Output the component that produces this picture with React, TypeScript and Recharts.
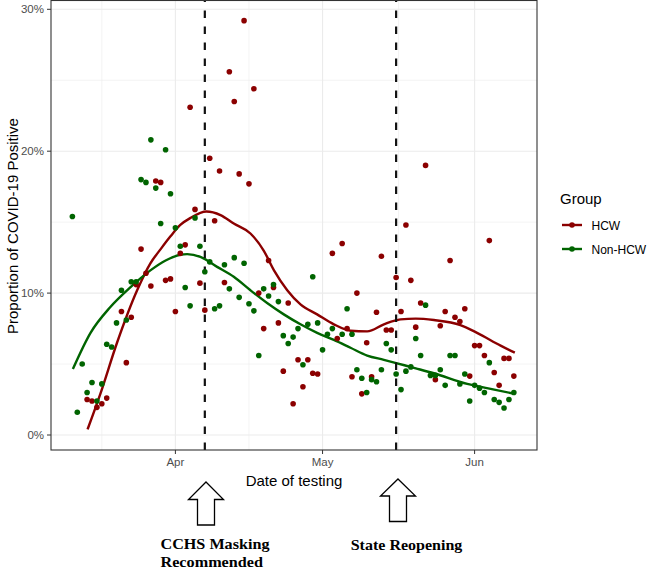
import {
  ComposedChart,
  Scatter,
  Line,
  XAxis,
  YAxis,
  CartesianGrid,
  ReferenceLine,
} from "recharts";

// days counted from Mar 1 (Apr 1 = 31, May 1 = 61, Jun 1 = 92)
const monthTicks = [31, 61, 92];
const monthLabels = ["Apr", "May", "Jun"];
const minorDays = [16, 46, 76.5];
const percentTicks = [0, 10, 20, 30];
const minorPercent = [5, 15, 25];
const eventDays = [37, 76]; // masking recommended, state reopening

const hcwDays = [
  13, 14, 15, 16, 17, 20, 21, 22, 23, 24, 25, 26, 27, 28, 29, 30, 31, 32, 33, 34,
  35, 36, 37, 38, 39, 40, 41, 42, 43, 44, 45, 46, 47, 48, 49, 50, 51, 52, 53, 54,
  55, 56, 57, 58, 59, 60, 63, 64, 65, 66, 67, 68, 69, 70, 71, 72, 73, 74, 75, 76,
  77, 78, 79, 80, 81, 82, 84, 85, 86, 87, 88, 89, 90, 91, 92, 93, 94, 95, 96, 97,
  98, 99, 100,
];
const hcwRates = [
  2.5, 2.4, 1.95, 2.2, 2.6, 8.7, 5.1, 8.3, 10.6, 13.1, 11.4, 10.5, 17.9, 17.8, 10.9, 11.0, 8.7, 12.8, 13.4, 23.1,
  15.9, 10.7, 8.8, 19.5, 15.1, 18.6, 10.75, 25.6, 23.5, 18.4, 29.2, 17.7, 24.4, 10.0, 7.5, 12.3, 10.4, 7.9, 4.5, 9.3,
  2.2, 5.3, 3.4, 5.3, 4.35, 4.3, 12.8, 6.8, 13.5, 7.5, 4.1, 10.0, 2.9, 6.5, 4.1, 8.65, 12.6, 7.4, 7.4, 11.1,
  8.7, 14.8, 10.9, 7.6, 9.3, 19.0, 3.9, 7.7, 8.7, 12.3, 8.3, 8.0, 8.9, 4.15, 6.3, 6.3, 5.6, 13.7, 4.4, 3.5,
  5.4, 5.4, 4.15,
];

const nonDays = [
  10, 11, 12, 13, 14, 15, 16, 17, 18, 19, 20, 21, 22, 23, 24, 25, 26, 27, 28, 29,
  30, 31, 32, 33, 34, 35, 36, 37, 38, 39, 40, 41, 42, 43, 44, 45, 46, 47, 48, 49,
  50, 51, 52, 53, 54, 55, 56, 57, 58, 59, 60, 61, 62, 63, 65, 66, 67, 68, 69, 70,
  71, 72, 73, 74, 75, 76, 77, 78, 79, 80, 81, 82, 83, 84, 85, 86, 87, 88, 89, 90,
  91, 92, 93, 94, 95, 96, 97, 98, 99, 100,
];
const nonRates = [
  15.4, 1.6, 5.0, 3.0, 3.7, 2.4, 3.6, 6.4, 6.2, 7.9, 10.2, 8.1, 10.8, 10.8, 18.0, 17.8, 20.8, 17.4, 14.9, 20.1,
  17.0, 14.6, 13.3, 10.4, 9.1, 15.3, 13.3, 11.5, 12.2, 8.9, 9.1, 12.0, 10.3, 12.5, 9.7, 12.1, 9.25, 8.75, 5.6, 10.3,
  9.8, 10.6, 9.4, 7.0, 6.45, 6.9, 7.5, 4.95, 7.8, 11.15, 7.9, 6.0, 7.1, 7.5, 7.1, 8.9, 7.1, 4.6, 4.0, 3.0,
  3.9, 3.75, 4.6, 6.45, 6.0, 4.3, 3.2, 4.5, 4.8, 6.8, 5.6, 9.15, 4.2, 4.2, 4.6, 3.5, 5.6, 5.6, 3.6, 4.3,
  2.4, 3.5, 3.3, 3.0, 5.1, 2.5, 2.3, 1.9, 2.5, 3.0,
];

// smoothed trend
const hcwTrendDays = [
  13.1, 15.7, 19.1, 23.2, 25.9, 28, 30, 32, 34.1, 37.3, 40.2, 42.9, 46.3, 49, 51.1,
  53.8, 56.5, 59.9, 63.3, 66.7, 70.1, 73.5, 76.9, 80, 83.7, 89.1, 92.5, 97.3, 100.2,
];
const hcwTrend = [
  0.4, 2.9, 6.5, 10.2, 12.1, 13.1, 14.0, 14.8, 15.3, 15.75, 15.5, 14.9, 14.2, 13.0, 11.6,
  10.2, 9.2, 8.5, 7.8, 7.35, 7.3, 7.8, 8.15, 8.2, 8.1, 7.75, 7.2, 6.3, 5.8,
];
const nonTrendDays = [
  10.1, 13.7, 17.7, 21.8, 25.9, 29, 32, 33.4, 36.1, 39.5, 42.9, 46.3, 49.7, 53.1,
  56.5, 59.9, 63.3, 66.7, 70.1, 73.5, 76.2, 80, 83.7, 90.5, 96, 100.2,
];
const nonTrend = [
  4.65, 7.2, 9.0, 10.4, 11.6, 12.3, 12.7, 12.75, 12.55, 11.85, 11.15, 10.2, 9.3, 8.5,
  7.8, 7.2, 6.7, 6.15, 5.6, 5.3, 5.05, 4.7, 4.35, 3.6, 3.2, 2.9,
];

const HCW = "#8B0000";
const NON = "#006400";
const sans = "'Liberation Sans', Arial, Helvetica, sans-serif";
const serif = "'Liberation Serif', 'Times New Roman', serif";

const rows = (days: number[], vals: number[]) =>
  days.map((d, i) => ({ day: d, value: vals[i] }));

const dotShape = (color: string) => (p: any) =>
  <circle cx={p.cx} cy={p.cy} r={2.8} fill={color} />;

const axisTick = { fill: "#4D4D4D", fontSize: 11.5, fontFamily: sans };

export default function App() {
  return (
    <div style={{ position: "absolute", left: 0, top: 0, width: 649, height: 571, background: "#fff" }}>
      <ComposedChart width={649} height={571} margin={{ top: 1, right: 112, bottom: 91, left: 0 }}>
        <CartesianGrid
          stroke="#EBEBEB"
          strokeWidth={0.6}
          horizontalValues={minorPercent}
          verticalValues={minorDays}
        />
        <CartesianGrid
          stroke="#EBEBEB"
          strokeWidth={1.1}
          horizontalValues={percentTicks}
          verticalValues={monthTicks}
        />
        <XAxis
          dataKey="day"
          type="number"
          domain={[5.64, 104.72]}
          allowDataOverflow
          ticks={monthTicks}
          tickFormatter={(v) => monthLabels[monthTicks.indexOf(v)]}
          tick={axisTick}
          tickSize={4}
          tickMargin={4}
          tickLine={{ stroke: "#333" }}
          axisLine={false}
          height={30}
        />
        <YAxis
          dataKey="value"
          type="number"
          domain={[-1.057, 30.585]}
          allowDataOverflow
          ticks={percentTicks}
          tickFormatter={(v) => `${v}%`}
          tick={axisTick}
          tickSize={4}
          tickMargin={3}
          tickLine={{ stroke: "#333" }}
          axisLine={false}
          width={51}
        />
        <Scatter data={rows(hcwDays, hcwRates)} fill={HCW} shape={dotShape(HCW)} isAnimationActive={false} />
        <Scatter data={rows(nonDays, nonRates)} fill={NON} shape={dotShape(NON)} isAnimationActive={false} />
        <Line
          data={rows(hcwTrendDays, hcwTrend)}
          dataKey="value"
          type="monotone"
          stroke={HCW}
          strokeWidth={2.4}
          dot={false}
          activeDot={false}
          isAnimationActive={false}
        />
        <Line
          data={rows(nonTrendDays, nonTrend)}
          dataKey="value"
          type="monotone"
          stroke={NON}
          strokeWidth={2.4}
          dot={false}
          activeDot={false}
          isAnimationActive={false}
        />
        {eventDays.map((d) => (
          <ReferenceLine key={d} x={d} stroke="#111" strokeWidth={2.2} strokeDasharray="7.5 8.5" />
        ))}
      </ComposedChart>

      <svg
        width={649}
        height={571}
        style={{ position: "absolute", left: 0, top: 0, pointerEvents: "none" }}
      >
        {/* panel border */}
        <rect x={51} y={0.5} width={486} height={449.5} fill="none" stroke="#333" strokeWidth={1.1} />

        {/* axis titles */}
        <text x={294} y={486} textAnchor="middle" fontFamily={sans} fontSize={15} fill="#000">
          Date of testing
        </text>
        <text
          transform="translate(18,226) rotate(-90)"
          textAnchor="middle"
          fontFamily={sans}
          fontSize={15}
          fill="#000"
        >
          Proportion of COVID-19 Positive
        </text>

        {/* legend */}
        <text x={560} y={204} fontFamily={sans} fontSize={15} fill="#000">Group</text>
        <line x1={562} x2={582} y1={225} y2={225} stroke={HCW} strokeWidth={2.4} />
        <circle cx={572} cy={225} r={2.8} fill={HCW} />
        <text x={591.5} y={229.5} fontFamily={sans} fontSize={12} fill="#000">HCW</text>
        <line x1={562} x2={582} y1={249} y2={249} stroke={NON} strokeWidth={2.4} />
        <circle cx={572} cy={249} r={2.8} fill={NON} />
        <text x={591.5} y={253.5} fontFamily={sans} fontSize={12} fill="#000">Non-HCW</text>

        {/* event arrows */}
        <polygon
          points="206,482 223.5,499.5 214.5,499.5 214.5,525 197.5,525 197.5,499.5 188.5,499.5"
          fill="#fff"
          stroke="#000"
          strokeWidth={1.3}
        />
        <polygon
          points="398,479 415.5,496 406.5,496 406.5,521.5 389.5,521.5 389.5,496 380.5,496"
          fill="#fff"
          stroke="#000"
          strokeWidth={1.3}
        />

        {/* event labels */}
        <g fontFamily={serif} fontWeight="bold" fontSize={15.5} fill="#000">
          <text x={160.5} y={548.5} textLength={109} lengthAdjust="spacingAndGlyphs">CCHS Masking</text>
          <text x={160.5} y={566.5} textLength={102.5} lengthAdjust="spacingAndGlyphs">Recommended</text>
          <text x={350.7} y={549.5} textLength={111.7} lengthAdjust="spacingAndGlyphs">State Reopening</text>
        </g>
      </svg>
    </div>
  );
}
